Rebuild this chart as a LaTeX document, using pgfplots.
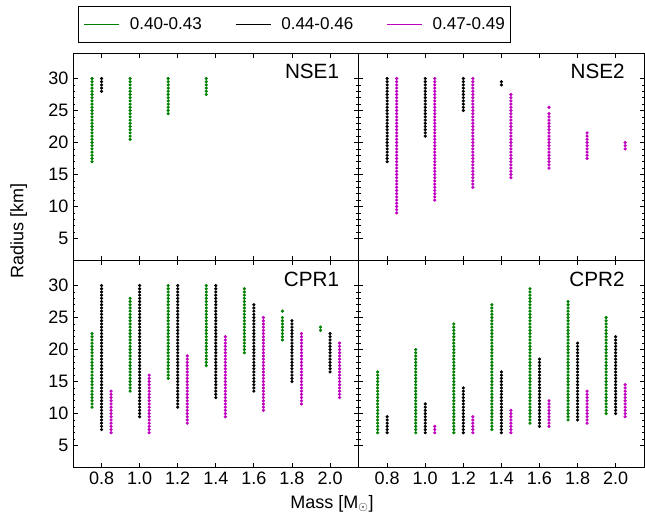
\documentclass[border=0pt]{standalone}
\usepackage{fontspec}
\setmainfont{Liberation Sans}
\usepackage{pgfplots}
\pgfplotsset{compat=1.18}
\definecolor{gcol}{rgb}{0,0.5,0}
\definecolor{mcol}{rgb}{0.75,0,0.75}
\pgfplotsset{
  panel/.style={
    anchor=south west,
    x=142.8pt, y=4.8pt, xmin=0.65, xmax=2.15, ymin=1.6, ymax=33.95,
    axis line style={line width=0.75pt},
    tick align=inside, xtick pos=both, ytick pos=both,
    xtick={0.8,1,1.2,1.4,1.6,1.8,2}, ytick={5,10,15,20,25,30}, minor y tick num=4,
    major tick length=3.5pt, minor tick length=1.8pt,
    tick style={black, line width=0.6pt},
    tick label style={font=\fontsize{13.5}{16}\selectfont},
    /pgf/number format/assume math mode=true,
    xticklabel style={/pgf/number format/.cd, fixed, fixed zerofill, precision=1},
  },
  ser/.style={only marks, mark=*, mark size=1pt, color=#1, mark options={draw=none, fill=#1}},
}
\tikzset{plab/.style={anchor=north east, inner sep=0pt, xshift=-14.5pt, yshift=-8.3pt, font=\fontsize{15.5}{18}\selectfont}}
\begin{document}
\begin{tikzpicture}
\useasboundingbox (0,0) rectangle (483.75pt,383.25pt);
% ---------------- NSE1 (top left)
\begin{axis}[panel, at={(54.75pt,188.055pt)}, xticklabels={},
  legend columns=3,
  legend image code/.code={\draw[#1] (0pt,0pt) -- (26.25pt,0pt);},
  legend style={at={(0.0163,1.0477)}, anchor=south west, draw=black, line width=0.75pt,
    inner xsep=4pt, inner ysep=8.5pt, font=\fontsize{12.8}{15}\selectfont, nodes={inner sep=0pt},
    /tikz/every odd column/.append style={column sep=7.5pt},
    /tikz/every even column/.append style={column sep=24.75pt}},
]
\addlegendimage{gcol, line width=1pt}
\addlegendimage{black, line width=1pt}
\addlegendimage{mcol, line width=1pt}
\legend{0.40-0.43, 0.44-0.46, 0.47-0.49}
\addplot[ser=gcol] table[row sep=\\] {x y\\
0.75 17\\0.75 17.5\\0.75 18\\0.75 18.5\\0.75 19\\0.75 19.5\\0.75 20\\0.75 20.5\\0.75 21\\0.75 21.5\\0.75 22\\0.75 22.5\\0.75 23\\0.75 23.5\\0.75 24\\0.75 24.5\\0.75 25\\0.75 25.5\\0.75 26\\0.75 26.5\\0.75 27\\0.75 27.5\\0.75 28\\0.75 28.5\\0.75 29\\0.75 29.5\\0.75 30\\
0.95 20.5\\0.95 21\\0.95 21.5\\0.95 22\\0.95 22.5\\0.95 23\\0.95 23.5\\0.95 24\\0.95 24.5\\0.95 25\\0.95 25.5\\0.95 26\\0.95 26.5\\0.95 27\\0.95 27.5\\0.95 28\\0.95 28.5\\0.95 29\\0.95 29.5\\0.95 30\\
1.15 24.5\\1.15 25\\1.15 25.5\\1.15 26\\1.15 26.5\\1.15 27\\1.15 27.5\\1.15 28\\1.15 28.5\\1.15 29\\1.15 29.5\\1.15 30\\
1.35 27.5\\1.35 28\\1.35 28.5\\1.35 29\\1.35 29.5\\1.35 30\\
};
\addplot[ser=black] table[row sep=\\] {x y\\
0.80 28\\0.80 28.5\\0.80 29\\0.80 29.5\\0.80 30\\
};
\node[plab] at (rel axis cs:1,1) {NSE1};
\end{axis}
% ---------------- NSE2 (top right)
\begin{axis}[panel, at={(268.95pt,188.055pt)}, xticklabels={}, yticklabels={}]
\addplot[ser=black] table[row sep=\\] {x y\\
0.80 17\\0.80 17.5\\0.80 18\\0.80 18.5\\0.80 19\\0.80 19.5\\0.80 20\\0.80 20.5\\0.80 21\\0.80 21.5\\0.80 22\\0.80 22.5\\0.80 23\\0.80 23.5\\0.80 24\\0.80 24.5\\0.80 25\\0.80 25.5\\0.80 26\\0.80 26.5\\0.80 27\\0.80 27.5\\0.80 28\\0.80 28.5\\0.80 29\\0.80 29.5\\0.80 30\\
1.00 21\\1.00 21.5\\1.00 22\\1.00 22.5\\1.00 23\\1.00 23.5\\1.00 24\\1.00 24.5\\1.00 25\\1.00 25.5\\1.00 26\\1.00 26.5\\1.00 27\\1.00 27.5\\1.00 28\\1.00 28.5\\1.00 29\\1.00 29.5\\1.00 30\\
1.20 25\\1.20 25.5\\1.20 26\\1.20 26.5\\1.20 27\\1.20 27.5\\1.20 28\\1.20 28.5\\1.20 29\\1.20 29.5\\1.20 30\\
1.40 29\\1.40 29.5\\
};
\addplot[ser=mcol] table[row sep=\\] {x y\\
0.85 9\\0.85 9.5\\0.85 10\\0.85 10.5\\0.85 11\\0.85 11.5\\0.85 12\\0.85 12.5\\0.85 13\\0.85 13.5\\0.85 14\\0.85 14.5\\0.85 15\\0.85 15.5\\0.85 16\\0.85 16.5\\0.85 17\\0.85 17.5\\0.85 18\\0.85 18.5\\0.85 19\\0.85 19.5\\0.85 20\\0.85 20.5\\0.85 21\\0.85 21.5\\0.85 22\\0.85 22.5\\0.85 23\\0.85 23.5\\0.85 24\\0.85 24.5\\0.85 25\\0.85 25.5\\0.85 26\\0.85 26.5\\0.85 27\\0.85 27.5\\0.85 28\\0.85 28.5\\0.85 29\\0.85 29.5\\0.85 30\\
1.05 11\\1.05 11.5\\1.05 12\\1.05 12.5\\1.05 13\\1.05 13.5\\1.05 14\\1.05 14.5\\1.05 15\\1.05 15.5\\1.05 16\\1.05 16.5\\1.05 17\\1.05 17.5\\1.05 18\\1.05 18.5\\1.05 19\\1.05 19.5\\1.05 20\\1.05 20.5\\1.05 21\\1.05 21.5\\1.05 22\\1.05 22.5\\1.05 23\\1.05 23.5\\1.05 24\\1.05 24.5\\1.05 25\\1.05 25.5\\1.05 26\\1.05 26.5\\1.05 27\\1.05 27.5\\1.05 28\\1.05 28.5\\1.05 29\\1.05 29.5\\1.05 30\\
1.25 13\\1.25 13.5\\1.25 14\\1.25 14.5\\1.25 15\\1.25 15.5\\1.25 16\\1.25 16.5\\1.25 17\\1.25 17.5\\1.25 18\\1.25 18.5\\1.25 19\\1.25 19.5\\1.25 20\\1.25 20.5\\1.25 21\\1.25 21.5\\1.25 22\\1.25 22.5\\1.25 23\\1.25 23.5\\1.25 24\\1.25 24.5\\1.25 25\\1.25 25.5\\1.25 26\\1.25 26.5\\1.25 27\\1.25 27.5\\1.25 28\\1.25 28.5\\1.25 29\\1.25 29.5\\1.25 30\\
1.45 14.5\\1.45 15\\1.45 15.5\\1.45 16\\1.45 16.5\\1.45 17\\1.45 17.5\\1.45 18\\1.45 18.5\\1.45 19\\1.45 19.5\\1.45 20\\1.45 20.5\\1.45 21\\1.45 21.5\\1.45 22\\1.45 22.5\\1.45 23\\1.45 23.5\\1.45 24\\1.45 24.5\\1.45 25\\1.45 25.5\\1.45 26\\1.45 26.5\\1.45 27\\1.45 27.5\\
1.65 16\\1.65 16.5\\1.65 17\\1.65 17.5\\1.65 18\\1.65 18.5\\1.65 19\\1.65 19.5\\1.65 20\\1.65 20.5\\1.65 21\\1.65 21.5\\1.65 22\\1.65 22.5\\1.65 23\\1.65 23.5\\1.65 24\\1.65 24.5\\1.65 25.5\\
1.85 17.5\\1.85 18\\1.85 18.5\\1.85 19\\1.85 19.5\\1.85 20\\1.85 20.5\\1.85 21\\1.85 21.5\\
2.05 19\\2.05 19.5\\2.05 20\\
};
\node[plab] at (rel axis cs:1,1) {NSE2};
\end{axis}
% ---------------- CPR1 (bottom left)
\begin{axis}[panel, at={(54.75pt,32.775pt)}]
\addplot[ser=gcol] table[row sep=\\] {x y\\
0.75 11\\0.75 11.5\\0.75 12\\0.75 12.5\\0.75 13\\0.75 13.5\\0.75 14\\0.75 14.5\\0.75 15\\0.75 15.5\\0.75 16\\0.75 16.5\\0.75 17\\0.75 17.5\\0.75 18\\0.75 18.5\\0.75 19\\0.75 19.5\\0.75 20\\0.75 20.5\\0.75 21\\0.75 21.5\\0.75 22\\0.75 22.5\\
0.95 13.5\\0.95 14\\0.95 14.5\\0.95 15\\0.95 15.5\\0.95 16\\0.95 16.5\\0.95 17\\0.95 17.5\\0.95 18\\0.95 18.5\\0.95 19\\0.95 19.5\\0.95 20\\0.95 20.5\\0.95 21\\0.95 21.5\\0.95 22\\0.95 22.5\\0.95 23\\0.95 23.5\\0.95 24\\0.95 24.5\\0.95 25\\0.95 25.5\\0.95 26\\0.95 26.5\\0.95 27\\0.95 27.5\\0.95 28\\
1.15 15.5\\1.15 16\\1.15 16.5\\1.15 17\\1.15 17.5\\1.15 18\\1.15 18.5\\1.15 19\\1.15 19.5\\1.15 20\\1.15 20.5\\1.15 21\\1.15 21.5\\1.15 22\\1.15 22.5\\1.15 23\\1.15 23.5\\1.15 24\\1.15 24.5\\1.15 25\\1.15 25.5\\1.15 26\\1.15 26.5\\1.15 27\\1.15 27.5\\1.15 28\\1.15 28.5\\1.15 29\\1.15 29.5\\1.15 30\\
1.35 17.5\\1.35 18\\1.35 18.5\\1.35 19\\1.35 19.5\\1.35 20\\1.35 20.5\\1.35 21\\1.35 21.5\\1.35 22\\1.35 22.5\\1.35 23\\1.35 23.5\\1.35 24\\1.35 24.5\\1.35 25\\1.35 25.5\\1.35 26\\1.35 26.5\\1.35 27\\1.35 27.5\\1.35 28\\1.35 28.5\\1.35 29\\1.35 29.5\\1.35 30\\
1.55 19.5\\1.55 20\\1.55 20.5\\1.55 21\\1.55 21.5\\1.55 22\\1.55 22.5\\1.55 23\\1.55 23.5\\1.55 24\\1.55 24.5\\1.55 25\\1.55 25.5\\1.55 26\\1.55 26.5\\1.55 27\\1.55 27.5\\1.55 28\\1.55 28.5\\1.55 29\\1.55 29.5\\
1.75 21.5\\1.75 22\\1.75 22.5\\1.75 23\\1.75 23.5\\1.75 24\\1.75 24.5\\1.75 25\\1.75 26\\
1.95 23\\1.95 23.5\\
};
\addplot[ser=black] table[row sep=\\] {x y\\
0.80 7.5\\0.80 8\\0.80 8.5\\0.80 9\\0.80 9.5\\0.80 10\\0.80 10.5\\0.80 11\\0.80 11.5\\0.80 12\\0.80 12.5\\0.80 13\\0.80 13.5\\0.80 14\\0.80 14.5\\0.80 15\\0.80 15.5\\0.80 16\\0.80 16.5\\0.80 17\\0.80 17.5\\0.80 18\\0.80 18.5\\0.80 19\\0.80 19.5\\0.80 20\\0.80 20.5\\0.80 21\\0.80 21.5\\0.80 22\\0.80 22.5\\0.80 23\\0.80 23.5\\0.80 24\\0.80 24.5\\0.80 25\\0.80 25.5\\0.80 26\\0.80 26.5\\0.80 27\\0.80 27.5\\0.80 28\\0.80 28.5\\0.80 29\\0.80 29.5\\0.80 30\\
1.00 9.5\\1.00 10\\1.00 10.5\\1.00 11\\1.00 11.5\\1.00 12\\1.00 12.5\\1.00 13\\1.00 13.5\\1.00 14\\1.00 14.5\\1.00 15\\1.00 15.5\\1.00 16\\1.00 16.5\\1.00 17\\1.00 17.5\\1.00 18\\1.00 18.5\\1.00 19\\1.00 19.5\\1.00 20\\1.00 20.5\\1.00 21\\1.00 21.5\\1.00 22\\1.00 22.5\\1.00 23\\1.00 23.5\\1.00 24\\1.00 24.5\\1.00 25\\1.00 25.5\\1.00 26\\1.00 26.5\\1.00 27\\1.00 27.5\\1.00 28\\1.00 28.5\\1.00 29\\1.00 29.5\\1.00 30\\
1.20 11\\1.20 11.5\\1.20 12\\1.20 12.5\\1.20 13\\1.20 13.5\\1.20 14\\1.20 14.5\\1.20 15\\1.20 15.5\\1.20 16\\1.20 16.5\\1.20 17\\1.20 17.5\\1.20 18\\1.20 18.5\\1.20 19\\1.20 19.5\\1.20 20\\1.20 20.5\\1.20 21\\1.20 21.5\\1.20 22\\1.20 22.5\\1.20 23\\1.20 23.5\\1.20 24\\1.20 24.5\\1.20 25\\1.20 25.5\\1.20 26\\1.20 26.5\\1.20 27\\1.20 27.5\\1.20 28\\1.20 28.5\\1.20 29\\1.20 29.5\\1.20 30\\
1.40 12.5\\1.40 13\\1.40 13.5\\1.40 14\\1.40 14.5\\1.40 15\\1.40 15.5\\1.40 16\\1.40 16.5\\1.40 17\\1.40 17.5\\1.40 18\\1.40 18.5\\1.40 19\\1.40 19.5\\1.40 20\\1.40 20.5\\1.40 21\\1.40 21.5\\1.40 22\\1.40 22.5\\1.40 23\\1.40 23.5\\1.40 24\\1.40 24.5\\1.40 25\\1.40 25.5\\1.40 26\\1.40 26.5\\1.40 27\\1.40 27.5\\1.40 28\\1.40 28.5\\1.40 29\\1.40 29.5\\1.40 30\\
1.60 13.5\\1.60 14\\1.60 14.5\\1.60 15\\1.60 15.5\\1.60 16\\1.60 16.5\\1.60 17\\1.60 17.5\\1.60 18\\1.60 18.5\\1.60 19\\1.60 19.5\\1.60 20\\1.60 20.5\\1.60 21\\1.60 21.5\\1.60 22\\1.60 22.5\\1.60 23\\1.60 23.5\\1.60 24\\1.60 24.5\\1.60 25\\1.60 25.5\\1.60 26\\1.60 26.5\\1.60 27\\
1.80 15\\1.80 15.5\\1.80 16\\1.80 16.5\\1.80 17\\1.80 17.5\\1.80 18\\1.80 18.5\\1.80 19\\1.80 19.5\\1.80 20\\1.80 20.5\\1.80 21\\1.80 21.5\\1.80 22\\1.80 22.5\\1.80 23\\1.80 23.5\\1.80 24\\1.80 24.5\\
2.00 16.5\\2.00 17\\2.00 17.5\\2.00 18\\2.00 18.5\\2.00 19\\2.00 19.5\\2.00 20\\2.00 20.5\\2.00 21\\2.00 21.5\\2.00 22\\2.00 22.5\\
};
\addplot[ser=mcol] table[row sep=\\] {x y\\
0.85 7\\0.85 7.5\\0.85 8\\0.85 8.5\\0.85 9\\0.85 9.5\\0.85 10\\0.85 10.5\\0.85 11\\0.85 11.5\\0.85 12\\0.85 12.5\\0.85 13\\0.85 13.5\\
1.05 7\\1.05 7.5\\1.05 8\\1.05 8.5\\1.05 9\\1.05 9.5\\1.05 10\\1.05 10.5\\1.05 11\\1.05 11.5\\1.05 12\\1.05 12.5\\1.05 13\\1.05 13.5\\1.05 14\\1.05 14.5\\1.05 15\\1.05 15.5\\1.05 16\\
1.25 8.5\\1.25 9\\1.25 9.5\\1.25 10\\1.25 10.5\\1.25 11\\1.25 11.5\\1.25 12\\1.25 12.5\\1.25 13\\1.25 13.5\\1.25 14\\1.25 14.5\\1.25 15\\1.25 15.5\\1.25 16\\1.25 16.5\\1.25 17\\1.25 17.5\\1.25 18\\1.25 18.5\\1.25 19\\
1.45 9.5\\1.45 10\\1.45 10.5\\1.45 11\\1.45 11.5\\1.45 12\\1.45 12.5\\1.45 13\\1.45 13.5\\1.45 14\\1.45 14.5\\1.45 15\\1.45 15.5\\1.45 16\\1.45 16.5\\1.45 17\\1.45 17.5\\1.45 18\\1.45 18.5\\1.45 19\\1.45 19.5\\1.45 20\\1.45 20.5\\1.45 21\\1.45 21.5\\1.45 22\\
1.65 10.5\\1.65 11\\1.65 11.5\\1.65 12\\1.65 12.5\\1.65 13\\1.65 13.5\\1.65 14\\1.65 14.5\\1.65 15\\1.65 15.5\\1.65 16\\1.65 16.5\\1.65 17\\1.65 17.5\\1.65 18\\1.65 18.5\\1.65 19\\1.65 19.5\\1.65 20\\1.65 20.5\\1.65 21\\1.65 21.5\\1.65 22\\1.65 22.5\\1.65 23\\1.65 23.5\\1.65 24\\1.65 24.5\\1.65 25\\
1.85 11.5\\1.85 12\\1.85 12.5\\1.85 13\\1.85 13.5\\1.85 14\\1.85 14.5\\1.85 15\\1.85 15.5\\1.85 16\\1.85 16.5\\1.85 17\\1.85 17.5\\1.85 18\\1.85 18.5\\1.85 19\\1.85 19.5\\1.85 20\\1.85 20.5\\1.85 21\\1.85 21.5\\1.85 22\\1.85 22.5\\
2.05 12.5\\2.05 13\\2.05 13.5\\2.05 14\\2.05 14.5\\2.05 15\\2.05 15.5\\2.05 16\\2.05 16.5\\2.05 17\\2.05 17.5\\2.05 18\\2.05 18.5\\2.05 19\\2.05 19.5\\2.05 20\\2.05 20.5\\2.05 21\\
};
\node[plab] at (rel axis cs:1,1) {CPR1};
\end{axis}
% ---------------- CPR2 (bottom right)
\begin{axis}[panel, at={(268.95pt,32.775pt)}, yticklabels={}]
\addplot[ser=gcol] table[row sep=\\] {x y\\
0.75 7\\0.75 7.5\\0.75 8\\0.75 8.5\\0.75 9\\0.75 9.5\\0.75 10\\0.75 10.5\\0.75 11\\0.75 11.5\\0.75 12\\0.75 12.5\\0.75 13\\0.75 13.5\\0.75 14\\0.75 14.5\\0.75 15\\0.75 15.5\\0.75 16\\0.75 16.5\\
0.95 7\\0.95 7.5\\0.95 8\\0.95 8.5\\0.95 9\\0.95 9.5\\0.95 10\\0.95 10.5\\0.95 11\\0.95 11.5\\0.95 12\\0.95 12.5\\0.95 13\\0.95 13.5\\0.95 14\\0.95 14.5\\0.95 15\\0.95 15.5\\0.95 16\\0.95 16.5\\0.95 17\\0.95 17.5\\0.95 18\\0.95 18.5\\0.95 19\\0.95 19.5\\0.95 20\\
1.15 7\\1.15 7.5\\1.15 8\\1.15 8.5\\1.15 9\\1.15 9.5\\1.15 10\\1.15 10.5\\1.15 11\\1.15 11.5\\1.15 12\\1.15 12.5\\1.15 13\\1.15 13.5\\1.15 14\\1.15 14.5\\1.15 15\\1.15 15.5\\1.15 16\\1.15 16.5\\1.15 17\\1.15 17.5\\1.15 18\\1.15 18.5\\1.15 19\\1.15 19.5\\1.15 20\\1.15 20.5\\1.15 21\\1.15 21.5\\1.15 22\\1.15 22.5\\1.15 23\\1.15 23.5\\1.15 24\\
1.35 7.5\\1.35 8\\1.35 8.5\\1.35 9\\1.35 9.5\\1.35 10\\1.35 10.5\\1.35 11\\1.35 11.5\\1.35 12\\1.35 12.5\\1.35 13\\1.35 13.5\\1.35 14\\1.35 14.5\\1.35 15\\1.35 15.5\\1.35 16\\1.35 16.5\\1.35 17\\1.35 17.5\\1.35 18\\1.35 18.5\\1.35 19\\1.35 19.5\\1.35 20\\1.35 20.5\\1.35 21\\1.35 21.5\\1.35 22\\1.35 22.5\\1.35 23\\1.35 23.5\\1.35 24\\1.35 24.5\\1.35 25\\1.35 25.5\\1.35 26\\1.35 26.5\\1.35 27\\
1.55 8.5\\1.55 9\\1.55 9.5\\1.55 10\\1.55 10.5\\1.55 11\\1.55 11.5\\1.55 12\\1.55 12.5\\1.55 13\\1.55 13.5\\1.55 14\\1.55 14.5\\1.55 15\\1.55 15.5\\1.55 16\\1.55 16.5\\1.55 17\\1.55 17.5\\1.55 18\\1.55 18.5\\1.55 19\\1.55 19.5\\1.55 20\\1.55 20.5\\1.55 21\\1.55 21.5\\1.55 22\\1.55 22.5\\1.55 23\\1.55 23.5\\1.55 24\\1.55 24.5\\1.55 25\\1.55 25.5\\1.55 26\\1.55 26.5\\1.55 27\\1.55 27.5\\1.55 28\\1.55 28.5\\1.55 29\\1.55 29.5\\
1.75 9\\1.75 9.5\\1.75 10\\1.75 10.5\\1.75 11\\1.75 11.5\\1.75 12\\1.75 12.5\\1.75 13\\1.75 13.5\\1.75 14\\1.75 14.5\\1.75 15\\1.75 15.5\\1.75 16\\1.75 16.5\\1.75 17\\1.75 17.5\\1.75 18\\1.75 18.5\\1.75 19\\1.75 19.5\\1.75 20\\1.75 20.5\\1.75 21\\1.75 21.5\\1.75 22\\1.75 22.5\\1.75 23\\1.75 23.5\\1.75 24\\1.75 24.5\\1.75 25\\1.75 25.5\\1.75 26\\1.75 26.5\\1.75 27\\1.75 27.5\\
1.95 10\\1.95 10.5\\1.95 11\\1.95 11.5\\1.95 12\\1.95 12.5\\1.95 13\\1.95 13.5\\1.95 14\\1.95 14.5\\1.95 15\\1.95 15.5\\1.95 16\\1.95 16.5\\1.95 17\\1.95 17.5\\1.95 18\\1.95 18.5\\1.95 19\\1.95 19.5\\1.95 20\\1.95 20.5\\1.95 21\\1.95 21.5\\1.95 22\\1.95 22.5\\1.95 23\\1.95 23.5\\1.95 24\\1.95 24.5\\1.95 25\\
};
\addplot[ser=black] table[row sep=\\] {x y\\
0.80 7\\0.80 7.5\\0.80 8\\0.80 8.5\\0.80 9\\0.80 9.5\\
1.00 7\\1.00 7.5\\1.00 8\\1.00 8.5\\1.00 9\\1.00 9.5\\1.00 10\\1.00 10.5\\1.00 11\\1.00 11.5\\
1.20 7\\1.20 7.5\\1.20 8\\1.20 8.5\\1.20 9\\1.20 9.5\\1.20 10\\1.20 10.5\\1.20 11\\1.20 11.5\\1.20 12\\1.20 12.5\\1.20 13\\1.20 13.5\\1.20 14\\
1.40 7\\1.40 7.5\\1.40 8\\1.40 8.5\\1.40 9\\1.40 9.5\\1.40 10\\1.40 10.5\\1.40 11\\1.40 11.5\\1.40 12\\1.40 12.5\\1.40 13\\1.40 13.5\\1.40 14\\1.40 14.5\\1.40 15\\1.40 15.5\\1.40 16\\1.40 16.5\\
1.60 8\\1.60 8.5\\1.60 9\\1.60 9.5\\1.60 10\\1.60 10.5\\1.60 11\\1.60 11.5\\1.60 12\\1.60 12.5\\1.60 13\\1.60 13.5\\1.60 14\\1.60 14.5\\1.60 15\\1.60 15.5\\1.60 16\\1.60 16.5\\1.60 17\\1.60 17.5\\1.60 18\\1.60 18.5\\
1.80 9\\1.80 9.5\\1.80 10\\1.80 10.5\\1.80 11\\1.80 11.5\\1.80 12\\1.80 12.5\\1.80 13\\1.80 13.5\\1.80 14\\1.80 14.5\\1.80 15\\1.80 15.5\\1.80 16\\1.80 16.5\\1.80 17\\1.80 17.5\\1.80 18\\1.80 18.5\\1.80 19\\1.80 19.5\\1.80 20\\1.80 20.5\\1.80 21\\
2.00 10\\2.00 10.5\\2.00 11\\2.00 11.5\\2.00 12\\2.00 12.5\\2.00 13\\2.00 13.5\\2.00 14\\2.00 14.5\\2.00 15\\2.00 15.5\\2.00 16\\2.00 16.5\\2.00 17\\2.00 17.5\\2.00 18\\2.00 18.5\\2.00 19\\2.00 19.5\\2.00 20\\2.00 20.5\\2.00 21\\2.00 21.5\\2.00 22\\
};
\addplot[ser=mcol] table[row sep=\\] {x y\\
1.05 7\\1.05 7.5\\1.05 8\\
1.25 7\\1.25 7.5\\1.25 8\\1.25 8.5\\1.25 9\\1.25 9.5\\
1.45 7\\1.45 7.5\\1.45 8\\1.45 8.5\\1.45 9\\1.45 9.5\\1.45 10\\1.45 10.5\\
1.65 8\\1.65 8.5\\1.65 9\\1.65 9.5\\1.65 10\\1.65 10.5\\1.65 11\\1.65 11.5\\1.65 12\\
1.85 8.5\\1.85 9\\1.85 9.5\\1.85 10\\1.85 10.5\\1.85 11\\1.85 11.5\\1.85 12\\1.85 12.5\\1.85 13\\1.85 13.5\\
2.05 9.5\\2.05 10\\2.05 10.5\\2.05 11\\2.05 11.5\\2.05 12\\2.05 12.5\\2.05 13\\2.05 13.5\\2.05 14\\2.05 14.5\\
};
\node[plab] at (rel axis cs:1,1) {CPR2};
\end{axis}
\node[rotate=90, font=\fontsize{13.5}{16}\selectfont] at (14pt,210pt) {Radius [km]};
\node[anchor=base, inner sep=0pt, font=\fontsize{13.5}{16}\selectfont] at (249pt,2.25pt) {Mass [M$_\odot$]};
\end{tikzpicture}
\end{document}
